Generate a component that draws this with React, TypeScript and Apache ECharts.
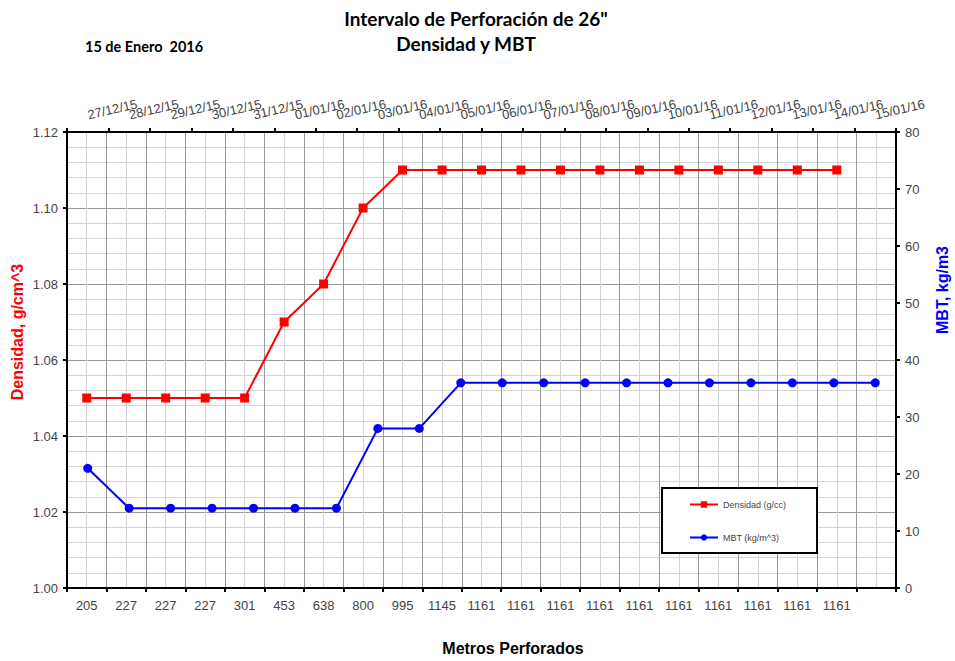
import React, { useEffect, useRef } from "react";
import * as echarts from "echarts";

const bottomCategories = [
  "205", "227", "227", "227", "301", "453", "638", "800", "995", "1145",
  "1161", "1161", "1161", "1161", "1161", "1161", "1161", "1161", "1161", "1161", "",
];
const topCategories = [
  "27/12/15", "28/12/15", "29/12/15", "30/12/15", "31/12/15",
  "01/01/16", "02/01/16", "03/01/16", "04/01/16", "05/01/16",
  "06/01/16", "07/01/16", "08/01/16", "09/01/16", "10/01/16",
  "11/01/16", "12/01/16", "13/01/16", "14/01/16", "15/01/16",
];
const densidad = [
  1.05, 1.05, 1.05, 1.05, 1.05, 1.07, 1.08, 1.1, 1.11, 1.11,
  1.11, 1.11, 1.11, 1.11, 1.11, 1.11, 1.11, 1.11, 1.11, 1.11,
];
const mbt = [
  21, 14, 14, 14, 14, 14, 14, 28, 28, 36,
  36, 36, 36, 36, 36, 36, 36, 36, 36, 36,
];
const seriesNames = ["Densidad (g/cc)", "MBT (kg/m^3)"];

const axisFont = "Liberation Sans, Arial, sans-serif";
const titleFont = "Lato, Liberation Sans, sans-serif";

export default function App() {
  const ref = useRef<HTMLDivElement>(null);
  useEffect(() => {
    if (!ref.current) return;
    const chart = echarts.init(ref.current, undefined, { renderer: "svg" });
    const axisLine = { show: true, onZero: false, lineStyle: { color: "#000", width: 2 } };
    const axisTick = { show: true, length: 4, lineStyle: { color: "#000", width: 2 } };
    chart.setOption({
      animation: false,
      backgroundColor: "#fff",
      grid: { left: 67, right: 59, top: 132, bottom: 73, outerBoundsMode: "none" },
      legend: {
        data: seriesNames,
        orient: "vertical",
        left: 662,
        top: 488,
        backgroundColor: "#fff",
        borderColor: "#000",
        borderWidth: 2,
        borderRadius: 0,
        padding: [12, 31, 11, 27],
        itemGap: 24,
        itemWidth: 28,
        itemHeight: 8,
        textStyle: { fontSize: 9, color: "#444", fontFamily: axisFont },
      },
      xAxis: [
        {
          type: "value",
          position: "bottom",
          min: 0,
          max: 21,
          interval: 1,
          axisLine: { show: false, onZero: false },
          axisTick: { show: false },
          axisLabel: { show: false },
          splitLine: { show: true, lineStyle: { color: "#999", width: 1 } },
          minorTick: { show: false, splitNumber: 2 },
          minorSplitLine: { show: true, lineStyle: { color: "#d4d4d4", width: 1 } },
        },
        {
          type: "category",
          position: "bottom",
          data: bottomCategories,
          boundaryGap: true,
          axisLine,
          axisTick: { ...axisTick, alignWithLabel: false, interval: 0 },
          axisLabel: { interval: 0, fontSize: 13, color: "#444", fontFamily: axisFont, margin: 11 },
          splitLine: { show: false },
        },
        {
          type: "category",
          position: "top",
          data: topCategories,
          boundaryGap: true,
          axisLine,
          axisTick: { ...axisTick, interval: 0 },
          axisLabel: {
            interval: 0,
            rotate: -13,
            fontSize: 13,
            color: "#444",
            fontFamily: axisFont,
            margin: 17,
          },
          splitLine: { show: false },
        },
      ],
      yAxis: [
        {
          type: "value",
          position: "left",
          min: 1.0,
          max: 1.12,
          interval: 0.02,
          axisLine,
          axisTick,
          axisLabel: {
            fontSize: 13,
            color: "#444",
            fontFamily: axisFont,
            margin: 9,
            formatter: (v: number) => v.toFixed(2),
          },
          splitLine: { show: true, lineStyle: { color: "#999", width: 1 } },
          minorTick: { show: false, splitNumber: 5 },
          minorSplitLine: { show: true, lineStyle: { color: "#d4d4d4", width: 1 } },
        },
        {
          type: "value",
          position: "right",
          min: 0,
          max: 80,
          interval: 10,
          axisLine,
          axisTick,
          axisLabel: { fontSize: 13, color: "#444", fontFamily: axisFont, margin: 9 },
          splitLine: { show: false },
        },
      ],
      series: [
        {
          name: seriesNames[0],
          type: "line",
          xAxisIndex: 1,
          yAxisIndex: 0,
          data: densidad,
          color: "#ff0000",
          symbol: "rect",
          symbolSize: 9,
          lineStyle: { width: 2, color: "#ff0000" },
          itemStyle: { color: "#ff0000" },
        },
        {
          name: seriesNames[1],
          type: "line",
          xAxisIndex: 2,
          yAxisIndex: 1,
          data: mbt,
          color: "#0000ff",
          symbol: "circle",
          symbolSize: 9,
          lineStyle: { width: 2, color: "#0000ff" },
          itemStyle: { color: "#0000ff" },
        },
      ],
      graphic: [
        {
          type: "text",
          x: 476,
          y: 18,
          style: {
            text: "Intervalo de Perforación de 26\"",
            font: `bold 19px ${titleFont}`,
            fill: "#000",
            textAlign: "center",
            textVerticalAlign: "middle",
          },
        },
        {
          type: "text",
          x: 466,
          y: 43,
          style: {
            text: "Densidad y MBT",
            font: `bold 19px ${titleFont}`,
            fill: "#000",
            textAlign: "center",
            textVerticalAlign: "middle",
          },
        },
        {
          type: "text",
          x: 85,
          y: 46,
          style: {
            text: "15 de Enero  2016",
            font: `bold 14.5px ${titleFont}`,
            fill: "#000",
            textAlign: "left",
            textVerticalAlign: "middle",
          },
        },
        {
          type: "text",
          x: 17,
          y: 332,
          rotation: Math.PI / 2,
          style: {
            text: "Densidad, g/cm^3",
            font: `bold 16px ${axisFont}`,
            fill: "#ff0000",
            textAlign: "center",
            textVerticalAlign: "middle",
          },
        },
        {
          type: "text",
          x: 942,
          y: 290,
          rotation: Math.PI / 2,
          style: {
            text: "MBT, kg/m3",
            font: `bold 16px ${axisFont}`,
            fill: "#0000ff",
            textAlign: "center",
            textVerticalAlign: "middle",
          },
        },
        {
          type: "text",
          x: 513,
          y: 648,
          style: {
            text: "Metros Perforados",
            font: `bold 16px ${axisFont}`,
            fill: "#000",
            textAlign: "center",
            textVerticalAlign: "middle",
          },
        },
      ],
    });
    return () => chart.dispose();
  }, []);
  return (
    <div
      ref={ref}
      style={{ position: "absolute", left: 0, top: 0, width: 955, height: 661, background: "#fff" }}
    />
  );
}
